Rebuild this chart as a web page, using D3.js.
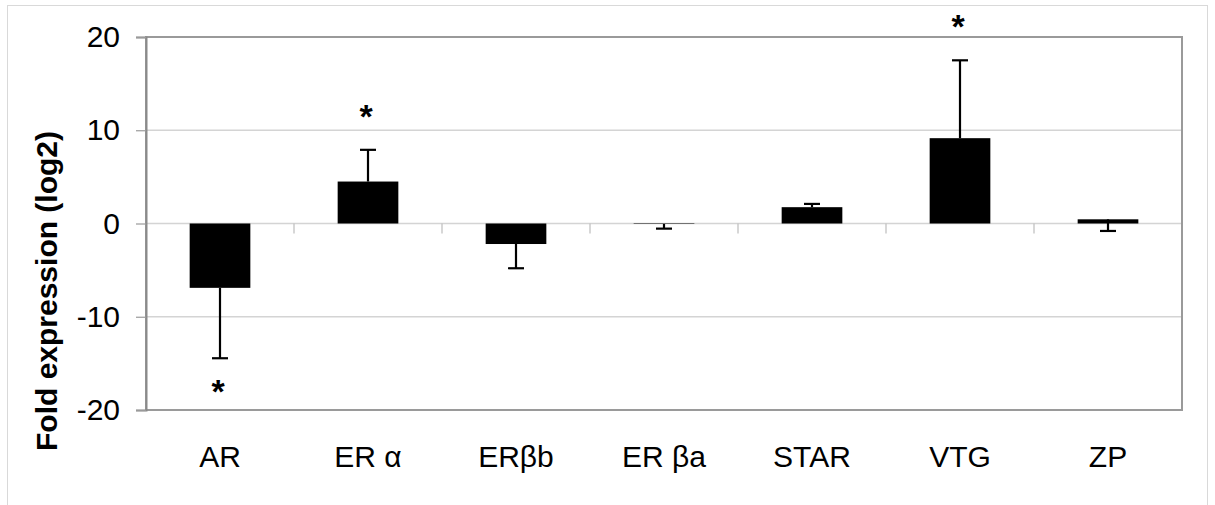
<!DOCTYPE html>
<html>
<head>
<meta charset="utf-8">
<script src="https://cdn.jsdelivr.net/npm/d3@7"></script>
<style>
  html, body { margin: 0; padding: 0; background: #fff; }
  svg { display: block; }
  text { font-family: "Liberation Sans", Arial, sans-serif; fill: #000; }
</style>
</head>
<body>
<svg id="chart" width="1215" height="505"></svg>
<script>
const categories = ["AR", "ER α", "ERβb", "ER βa", "STAR", "VTG", "ZP"];
const values = [-6.9, 4.5, -2.2, -0.05, 1.75, 9.15, 0.45];
const errorEnds = [-14.45, 7.9, -4.8, -0.55, 2.1, 17.5, -0.8];
const significant = [true, true, false, false, false, true, false];
const yTicks = [-20, -10, 0, 10, 20];
const yTickLabels = ["-20", "-10", "0", "10", "20"];
const yTitle = "Fold expression (log2)";

const W = 1215, H = 505;
const margin = { left: 146, right: 33, top: 37, bottom: 95 };
const svg = d3.select("#chart");

// outer chart border
svg.append("rect")
  .attr("x", 7.5).attr("y", 5.5)
  .attr("width", 1200).attr("height", 510)
  .attr("fill", "none").attr("stroke", "#d9d9d9").attr("stroke-width", 1);

const x = d3.scaleBand()
  .domain(categories)
  .range([margin.left, W - margin.right])
  .paddingInner(0.59).paddingOuter(0.295);

const y = d3.scaleLinear()
  .domain([-20, 20])
  .range([H - margin.bottom, margin.top]);

const step = x.step();
const plotL = margin.left, plotR = W - margin.right;

// gridlines
svg.append("g")
  .selectAll("line")
  .data(yTicks.filter(d => d !== -20 && d !== 20))
  .join("line")
  .attr("x1", plotL).attr("x2", plotR)
  .attr("y1", d => y(d)).attr("y2", d => y(d))
  .attr("stroke", "#d4d4d4").attr("stroke-width", 1.5);

// category ticks hanging from zero line
const bounds = d3.range(categories.length + 1).map(i => plotL + i * step);
svg.append("g")
  .selectAll("line")
  .data(bounds.slice(1, -1))
  .join("line")
  .attr("x1", d => d).attr("x2", d => d)
  .attr("y1", y(0)).attr("y2", y(0) + 10)
  .attr("stroke", "#bdbdbd").attr("stroke-width", 1.2);

// plot frame
svg.append("rect")
  .attr("x", plotL).attr("y", y(20))
  .attr("width", plotR - plotL).attr("height", y(-20) - y(20))
  .attr("fill", "none").attr("stroke", "#9a9a9a").attr("stroke-width", 2);

// y axis
const yAxis = d3.axisLeft(y)
  .tickValues(yTicks)
  .tickFormat((d, i) => yTickLabels[i])
  .tickSize(10).tickPadding(16);
const ya = svg.append("g")
  .attr("transform", `translate(${plotL},0)`)
  .call(yAxis);
ya.select(".domain").attr("stroke", "#8a8a8a").attr("stroke-width", 2);
ya.selectAll(".tick line").attr("stroke", "#9a9a9a").attr("stroke-width", 1.2);
ya.selectAll(".tick text")
  .attr("font-size", 30)
  .attr("font-family", "Liberation Sans, Arial, sans-serif")
  .attr("fill", "#000");

// x axis labels
const xAxis = d3.axisBottom(x).tickSize(0).tickPadding(36);
const xa = svg.append("g")
  .attr("transform", `translate(0,${y(-20)})`)
  .call(xAxis);
xa.select(".domain").remove();
xa.selectAll(".tick text")
  .attr("font-size", 30)
  .attr("font-family", "Liberation Sans, Arial, sans-serif")
  .attr("fill", "#000");

// bars
const data = categories.map((c, i) => ({ c, v: values[i], e: errorEnds[i], s: significant[i] }));
svg.append("g")
  .selectAll("rect")
  .data(data)
  .join("rect")
  .attr("x", d => x(d.c))
  .attr("width", x.bandwidth())
  .attr("y", d => y(Math.max(0, d.v)))
  .attr("height", d => Math.abs(y(d.v) - y(0)))
  .attr("fill", "#000");

// error bars
const eg = svg.append("g").attr("stroke", "#000").attr("stroke-width", 2.2);
eg.selectAll("line.stem")
  .data(data)
  .join("line")
  .attr("class", "stem")
  .attr("x1", d => x(d.c) + x.bandwidth() / 2)
  .attr("x2", d => x(d.c) + x.bandwidth() / 2)
  .attr("y1", d => y(d.v))
  .attr("y2", d => y(d.e));
eg.selectAll("line.cap")
  .data(data)
  .join("line")
  .attr("class", "cap")
  .attr("x1", d => x(d.c) + x.bandwidth() / 2 - 8)
  .attr("x2", d => x(d.c) + x.bandwidth() / 2 + 8)
  .attr("y1", d => y(d.e))
  .attr("y2", d => y(d.e));

// significance asterisks
svg.append("g")
  .selectAll("text")
  .data(data.filter(d => d.s))
  .join("text")
  .attr("x", d => x(d.c) + x.bandwidth() / 2 - 2)
  .attr("y", d => d.e < 0 ? y(d.e) + 45 : y(d.e) - 22)
  .attr("text-anchor", "middle")
  .attr("font-size", 34)
  .attr("font-weight", "bold")
  .text("*");

// y title
svg.append("text")
  .attr("transform", `translate(57,291) rotate(-90)`)
  .attr("text-anchor", "middle")
  .attr("font-size", 30)
  .attr("font-weight", "bold")
  .text(yTitle);
</script>
</body>
</html>
